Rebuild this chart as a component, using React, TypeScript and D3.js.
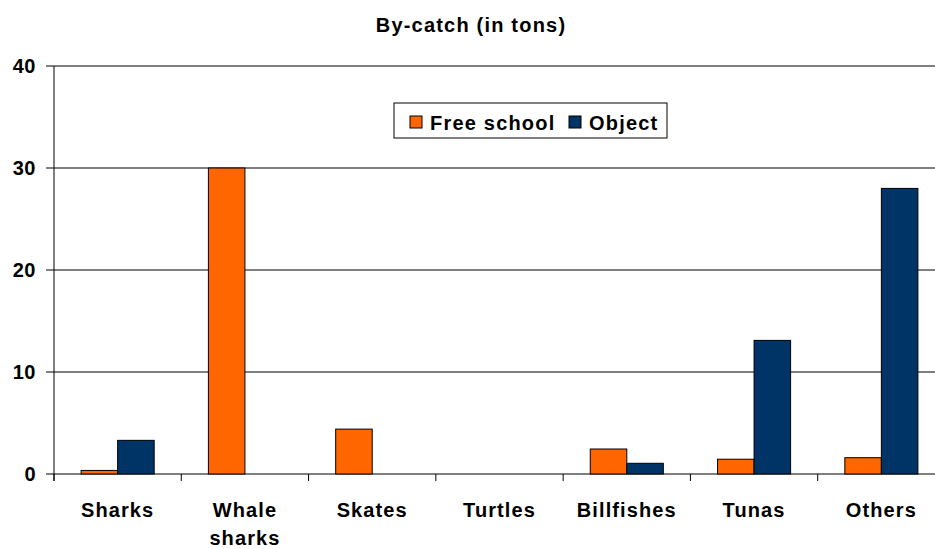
import React from "react";
import * as d3 from "d3";

const categories = ["Sharks", "Whale sharks", "Skates", "Turtles", "Billfishes", "Tunas", "Others"];
const categoryLines = [["Sharks"], ["Whale", "sharks"], ["Skates"], ["Turtles"], ["Billfishes"], ["Tunas"], ["Others"]];
const freeSchool = [0.35, 30, 4.4, 0, 2.45, 1.45, 1.6];
const objectSet = [3.3, 0, 0, 0, 1.05, 13.1, 28];
const yTicks = [0, 10, 20, 30, 40];
const seriesNames = ["Free school", "Object"];
const seriesColors = ["#FF6600", "#003366"];

const W = 935;
const H = 549;
const FONT = "'Liberation Sans', Arial, sans-serif";

export default function App() {
  const x = d3.scaleBand<string>().domain(categories).range([54, 945]);
  const y = d3.scaleLinear().domain([0, 40]).range([474, 66]);
  const bw = x.bandwidth() * 0.287;
  const series = [freeSchool, objectSet];

  return (
    <svg width={W} height={H} style={{ position: "absolute", left: 0, top: 0, background: "#fff" }} fontFamily={FONT}>
      <text x={471} y={32} textAnchor="middle" fontSize={20} fontWeight="bold" letterSpacing={1.2}>By-catch (in tons)</text>
      {yTicks.map((t) => (
        <g key={t}>
          <line x1={46} x2={W} y1={y(t)} y2={y(t)} stroke="#000" strokeWidth={1} />
          <text x={36} y={y(t) + 7} textAnchor="end" fontSize={20} fontWeight="bold" letterSpacing={0.5}>{t}</text>
        </g>
      ))}
      <line x1={54} x2={54} y1={66} y2={481} stroke="#000" />
      {categories.map((c, i) => (
        <line key={"t" + i} x1={x(c)!} x2={x(c)!} y1={474} y2={481} stroke="#000" />
      ))}
      {series.map((vals, s) =>
        categories.map((c, i) => {
          const v = vals[i];
          if (!v) return null;
          const cx = x(c)! + x.bandwidth() / 2;
          const x0 = cx - bw + s * bw;
          return (
            <rect key={s + "-" + i} x={x0} y={y(v)} width={bw} height={y(0) - y(v)} fill={seriesColors[s]} stroke="#000" strokeWidth={1} />
          );
        })
      )}
      {categories.map((c, i) => (
        <text key={"l" + i} x={x(c)! + x.bandwidth() / 2} y={517} textAnchor="middle" fontSize={20} fontWeight="bold" letterSpacing={1.1}>
          {categoryLines[i].map((ln, k) => (
            <tspan key={k} x={x(c)! + x.bandwidth() / 2} dy={k === 0 ? 0 : 28}>{ln}</tspan>
          ))}
        </text>
      ))}
      <g>
        <rect x={394} y={103} width={273} height={35} fill="#fff" stroke="#000" strokeWidth={1} />
        {seriesNames.map((n, s) => {
          const sx = s === 0 ? 410 : 569;
          return (
            <g key={n}>
              <rect x={sx} y={116} width={12} height={12} fill={seriesColors[s]} stroke="#000" />
              <text x={sx + 20} y={130} fontSize={20} fontWeight="bold" letterSpacing={1.2}>{n}</text>
            </g>
          );
        })}
      </g>
    </svg>
  );
}
